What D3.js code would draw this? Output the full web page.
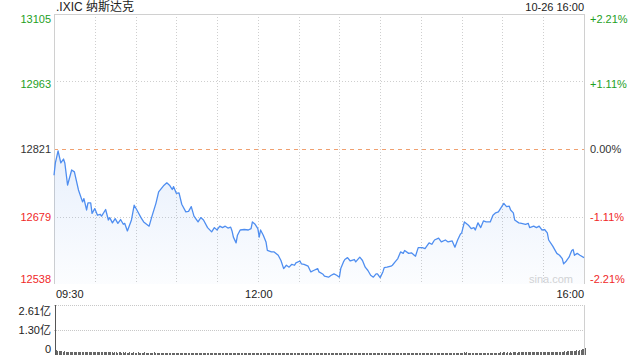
<!DOCTYPE html>
<html><head><meta charset="utf-8">
<script src="https://cdn.jsdelivr.net/npm/d3@7/dist/d3.min.js"></script>
<style>
html,body{margin:0;padding:0;background:#fff;}
svg{display:block;font-family:"Liberation Sans",Arial,"Noto Sans CJK SC",sans-serif;}
</style></head>
<body><svg id="c" width="640" height="360"></svg>
<script>
const title = ".IXIC 纳斯达克";
const stamp = "10-26 16:00";
const prevClose = 12821;
const priceTicks = [13105, 12963, 12821, 12679, 12538];
const pctTicks = ["+2.21%", "+1.11%", "0.00%", "-1.11%", "-2.21%"];
const timeTicks = [0, 150, 390];
const timeLabels = ["09:30", "12:00", "16:00"];
const volTicks = [2.61, 1.30, 0];
const volLabels = ["2.61亿", "1.30亿", "0"];
// minute offsets from 09:30 and index price
const minutes = [0,1,3,5,7,8,10,11,13,15,18,21,22,24,25,27,28,30,32,34,35,38,40,41,43,45,47,49,51,52,54,57,59,61,64,66,70,72,75,77,81,83,85,87,88,90,92,94,97,99,101,103,106,108,110,113,116,118,120,122,124,126,128,130,131,132,134,135,137,140,143,145,146,148,150,151,152,154,156,157,160,162,165,167,169,171,173,175,177,178,181,182,184,187,189,191,194,195,198,199,202,204,206,208,210,211,213,214,216,218,221,222,225,227,229,231,233,235,237,238,240,242,243,245,248,249,251,253,255,257,258,261,263,266,268,271,273,276,278,280,283,285,288,290,293,295,297,299,300,302,305,307,309,310,312,314,316,318,321,323,325,327,329,331,333,335,336,338,339,342,344,347,349,350,353,355,357,359,361,363,364,367,370,372,374,375,377,379,381,382,383,385,387,390];
const prices = [12766,12792,12817,12792,12800,12791,12745,12756,12777,12773,12735,12710,12717,12693,12708,12708,12686,12696,12682,12684,12680,12694,12672,12677,12666,12675,12665,12673,12663,12665,12649,12672,12703,12693,12677,12668,12659,12679,12707,12731,12745,12750,12745,12736,12742,12728,12729,12705,12689,12690,12700,12680,12668,12677,12672,12656,12647,12656,12651,12659,12656,12659,12655,12657,12649,12636,12624,12640,12651,12652,12651,12654,12668,12663,12654,12636,12651,12640,12626,12608,12605,12605,12598,12587,12570,12577,12573,12579,12577,12582,12586,12580,12579,12575,12563,12566,12570,12563,12558,12554,12552,12556,12559,12556,12552,12570,12584,12589,12593,12586,12589,12584,12594,12587,12573,12566,12556,12552,12559,12559,12551,12563,12572,12573,12575,12577,12584,12591,12605,12602,12608,12602,12603,12596,12614,12614,12612,12624,12621,12630,12634,12626,12630,12626,12628,12615,12630,12642,12645,12668,12661,12654,12656,12651,12666,12656,12670,12668,12668,12682,12687,12689,12698,12707,12700,12701,12693,12687,12672,12666,12665,12663,12665,12656,12659,12656,12659,12651,12652,12645,12630,12617,12602,12598,12591,12580,12586,12594,12608,12610,12598,12602,12598,12593];
// per-minute volume, 亿
const volumes = [
0.26,0.21,0.2,0.19,0.2,0.18,0.19,0.18,0.17,0.18,0.17,0.18,0.16,0.17,0.17,0.16,0.17,0.16,0.16,0.17,0.15,0.16,0.16,0.15,0.16,0.15,0.16,0.15,0.15,0.16,
0.15,0.14,0.15,0.15,0.14,0.15,0.14,0.15,0.14,0.14,0.15,0.14,0.13,0.14,0.14,0.13,0.14,0.14,0.13,0.14,0.13,0.14,0.13,0.13,0.14,0.13,0.13,0.14,0.13,0.13,
0.14,0.13,0.13,0.12,0.13,0.14,0.13,0.12,0.13,0.13,0.12,0.13,0.14,0.13,0.12,0.13,0.12,0.13,0.12,0.12,0.13,0.12,0.13,0.12,0.12,0.13,0.12,0.12,0.13,0.12,
0.12,0.11,0.12,0.12,0.11,0.12,0.12,0.11,0.12,0.11,0.12,0.11,0.11,0.12,0.11,0.12,0.11,0.11,0.12,0.11,0.11,0.12,0.11,0.11,0.1,0.11,0.11,0.12,0.11,0.11,
0.11,0.1,0.11,0.11,0.1,0.11,0.11,0.1,0.11,0.12,0.11,0.11,0.12,0.13,0.11,0.11,0.1,0.11,0.1,0.11,0.11,0.1,0.11,0.1,0.1,0.11,0.1,0.11,0.1,0.1,
0.11,0.1,0.1,0.11,0.1,0.11,0.12,0.11,0.1,0.11,0.1,0.1,0.11,0.1,0.1,0.11,0.1,0.11,0.12,0.11,0.1,0.1,0.11,0.1,0.1,0.11,0.1,0.1,0.11,0.1,
0.1,0.11,0.1,0.1,0.11,0.1,0.1,0.11,0.1,0.11,0.1,0.1,0.11,0.1,0.1,0.11,0.1,0.1,0.11,0.1,0.11,0.1,0.1,0.11,0.1,0.1,0.11,0.1,0.1,0.11,
0.12,0.11,0.12,0.11,0.1,0.11,0.1,0.11,0.1,0.1,0.11,0.1,0.11,0.1,0.1,0.11,0.1,0.11,0.1,0.11,0.12,0.11,0.1,0.11,0.12,0.11,0.1,0.11,0.1,0.11,
0.12,0.11,0.11,0.1,0.11,0.1,0.11,0.11,0.1,0.11,0.1,0.11,0.1,0.11,0.12,0.11,0.1,0.11,0.1,0.11,0.1,0.11,0.11,0.1,0.11,0.1,0.11,0.12,0.11,0.1,
0.11,0.1,0.11,0.11,0.1,0.11,0.12,0.11,0.1,0.11,0.11,0.1,0.11,0.12,0.11,0.1,0.11,0.11,0.12,0.11,0.11,0.12,0.11,0.12,0.11,0.12,0.13,0.12,0.11,0.12,
0.14,0.13,0.15,0.13,0.12,0.13,0.12,0.13,0.12,0.12,0.13,0.12,0.13,0.12,0.13,0.12,0.13,0.12,0.13,0.12,0.12,0.13,0.12,0.13,0.13,0.12,0.13,0.14,0.13,0.14,
0.15,0.13,0.14,0.13,0.14,0.13,0.14,0.15,0.14,0.13,0.14,0.15,0.14,0.14,0.15,0.14,0.15,0.14,0.14,0.15,0.15,0.14,0.15,0.15,0.14,0.15,0.16,0.15,0.15,0.16,
0.16,0.17,0.16,0.17,0.17,0.18,0.17,0.17,0.18,0.18,0.17,0.18,0.18,0.17,0.19,0.18,0.19,0.2,0.19,0.2,0.21,0.2,0.22,0.24,0.23,0.26,0.27,0.3,0.33,0.37
];

const svg = d3.select("#c");
const L = 54, R = 584, T = 14, B = 284;
const VT = 305, VB = 355;
const green = "#1ea01e", red = "#f02828", dark = "#333";
const span = prevClose * 0.0221;
const x = d3.scaleLinear().domain([0, 390]).range([L, R]);
const y = d3.scaleLinear().domain([prevClose - span, prevClose + span]).range([B, T]);
const yv = d3.scaleLinear().domain([0, 2.61]).range([VB, VT]);
const colorOf = i => i < 2 ? green : (i === 2 ? dark : red);

// gradient
const defs = svg.append("defs");
const grad = defs.append("linearGradient").attr("id", "ag").attr("x1", 0).attr("y1", 0).attr("x2", 0).attr("y2", 1);
grad.append("stop").attr("offset", "0%").attr("stop-color", "#4d8ae8").attr("stop-opacity", 0.13);
grad.append("stop").attr("offset", "100%").attr("stop-color", "#4d8ae8").attr("stop-opacity", 0.02);

// vertical grid (every 30 min)
const vgrid = d3.range(30, 390, 30);
svg.append("g").selectAll("line").data(vgrid).join("line")
  .attr("x1", d => Math.round(x(d)) + 0.5).attr("x2", d => Math.round(x(d)) + 0.5)
  .attr("y1", T).attr("y2", B)
  .attr("stroke", "#cfcfcf").attr("stroke-dasharray", "1,2");

// horizontal grid
[priceTicks[1], priceTicks[3]].forEach(v => {
  svg.append("line").attr("x1", L).attr("x2", R)
    .attr("y1", Math.round(y(v)) + 0.5).attr("y2", Math.round(y(v)) + 0.5)
    .attr("stroke", "#cfcfcf").attr("stroke-dasharray", "1,2");
});
svg.append("line").attr("x1", L).attr("x2", R)
  .attr("y1", Math.round(y(prevClose)) + 0.5).attr("y2", Math.round(y(prevClose)) + 0.5)
  .attr("stroke", "#f0a070").attr("stroke-dasharray", "4,4");

// borders
svg.append("line").attr("x1", L).attr("x2", R + 0.5).attr("y1", T + 0.5).attr("y2", T + 0.5).attr("stroke", "#d0d0d0");
svg.append("line").attr("x1", L + 0.5).attr("x2", L + 0.5).attr("y1", T).attr("y2", B).attr("stroke", "#d0d0d0");
svg.append("line").attr("x1", R + 0.5).attr("x2", R + 0.5).attr("y1", T).attr("y2", B).attr("stroke", "#d0d0d0");

// watermark
svg.append("text").attr("x", 573).attr("y", 283).attr("text-anchor", "end")
  .attr("font-size", 11).attr("fill", "#d4d4d4").text("sina.com");

const pts = minutes.map((m, i) => [m, prices[i]]);
svg.append("path").datum(pts)
  .attr("d", d3.area().x(d => x(d[0])).y0(B).y1(d => y(d[1])))
  .attr("fill", "url(#ag)");
svg.append("path").datum(pts)
  .attr("d", d3.line().x(d => x(d[0])).y(d => y(d[1])))
  .attr("fill", "none").attr("stroke", "#4f8ef0").attr("stroke-width", 1.3).attr("stroke-linejoin", "round");

// texts
svg.append("text").attr("x", 56).attr("y", 11).attr("font-size", 12).attr("fill", "#222").text(title);
svg.append("text").attr("x", R).attr("y", 11).attr("text-anchor", "end").attr("font-size", 11).attr("fill", "#222").text(stamp);

const yOff = [5, 3, 0, 0, -5];
priceTicks.forEach((v, i) => {
  svg.append("text").attr("x", 51).attr("y", y(v) + yOff[i]).attr("dy", "0.35em")
    .attr("text-anchor", "end").attr("font-size", 11).attr("fill", colorOf(i)).text(v);
  svg.append("text").attr("x", 590).attr("y", y(v) + yOff[i]).attr("dy", "0.35em")
    .attr("font-size", 11).attr("fill", colorOf(i)).text(pctTicks[i]);
});

const tAnchor = ["start", "middle", "end"];
timeTicks.forEach((t, i) => {
  svg.append("text").attr("x", i === 0 ? L + 2 : (i === 2 ? R : x(t) + 1)).attr("y", 298)
    .attr("text-anchor", tAnchor[i]).attr("font-size", 11).attr("fill", "#222").text(timeLabels[i]);
});

// volume panel
[2.61, 1.30].forEach(v => {
  svg.append("line").attr("x1", L).attr("x2", R)
    .attr("y1", Math.round(yv(v)) + 0.5).attr("y2", Math.round(yv(v)) + 0.5)
    .attr("stroke", "#c8c8c8").attr("stroke-dasharray", "1,1");
});
svg.append("line").attr("x1", L + 1.5).attr("x2", L + 1.5).attr("y1", VT).attr("y2", VB).attr("stroke", "#555");
svg.append("line").attr("x1", R + 0.5).attr("x2", R + 0.5).attr("y1", VT).attr("y2", VB).attr("stroke", "#d0d0d0");
const vOff = [6, 0, -6];
volTicks.forEach((v, i) => {
  svg.append("text").attr("x", 51).attr("y", yv(v) + vOff[i]).attr("dy", "0.35em")
    .attr("text-anchor", "end").attr("font-size", 11).attr("fill", "#222").text(volLabels[i]);
});
svg.append("g").attr("shape-rendering", "crispEdges").selectAll("rect").data(volumes).join("rect")
  .attr("x", (d, i) => x(i) + 2).attr("width", 1)
  .attr("y", d => yv(d)).attr("height", d => VB - yv(d))
  .attr("fill", "#666");
</script></body></html>
